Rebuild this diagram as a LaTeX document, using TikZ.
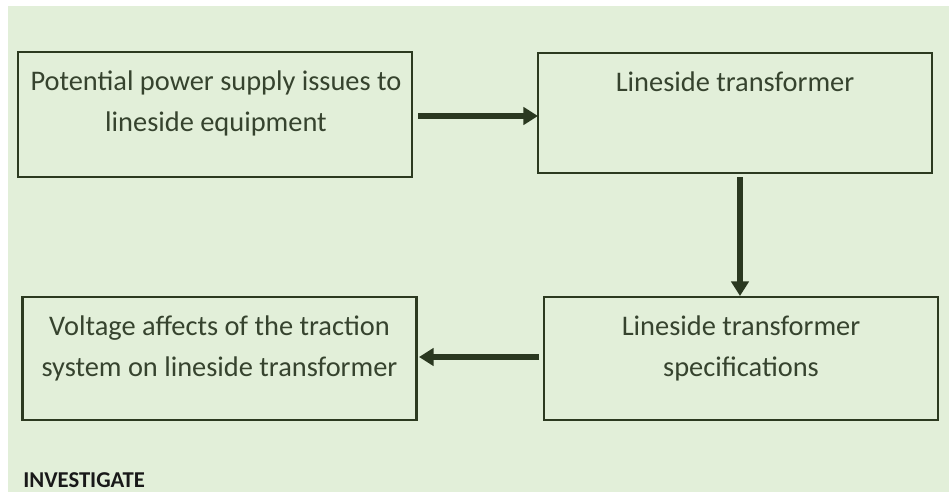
\documentclass[tikz,border=0pt]{standalone}
\usepackage{fontspec}
\setmainfont{Carlito}
\usetikzlibrary{arrows.meta}
\definecolor{bggreen}{HTML}{E2EFD9}
\definecolor{boxline}{HTML}{2C3A20}
\definecolor{txtcol}{HTML}{36432E}
\definecolor{arrcol}{HTML}{2A3820}
\tikzset{
  stepbox/.style={draw=boxline, line width=1.6pt, fill=none, inner sep=0pt, minimum width=394*0.75pt},
  boxtext/.style={text=txtcol, font=\fontsize{21.3}{30.75}\selectfont, align=center, anchor=base, inner sep=0pt},
  flowarrow/.style={draw=arrcol, line width=4.2pt, -{Triangle[length=11pt,width=13pt]}},
}
\begin{document}
\begin{tikzpicture}[x=0.75pt,y=-0.75pt]
\useasboundingbox (0,0) rectangle (949,492);
\fill[white] (0,0) rectangle (949,492);
\fill[bggreen] (8,6) rectangle (949,492);
% boxes
\node[stepbox, minimum height=125*0.75pt] (b1) at (215,114.5) {};
\node[stepbox, minimum height=120*0.75pt] (b2) at (735,113) {};
\node[stepbox, minimum height=123*0.75pt] (b3) at (741,358.5) {};
\node[stepbox, minimum height=123*0.75pt] (b4) at (219.5,358.5) {};
% texts (anchor base = baseline of last line)
\node[boxtext] (t1) at (216,131) {Potential power supply issues to\\lineside equipment};
\node[boxtext] (t2) at (735,91) {Lineside transformer};
\node[boxtext] (t3) at (741,376) {Lineside transformer\\specifications};
\node[boxtext] (t4) at (219.5,376) {Voltage affects of the traction\\system on lineside transformer};
% arrows
\coordinate (a1s) at (418,116);
\coordinate (a1e) at (538,116);
\coordinate (a2s) at (740,177);
\coordinate (a2e) at (740,296);
\coordinate (a3s) at (539,357);
\coordinate (a3e) at (419,357);
\draw[flowarrow] (a1s) -- (a1e);
\draw[flowarrow] (a2s) -- (a2e);
\draw[flowarrow] (a3s) -- (a3e);
% label
\node[anchor=base west, inner sep=0pt, font=\fontsize{17}{20}\selectfont\bfseries, text=black!90] (inv) at (23,487) {INVESTIGATE};
\end{tikzpicture}
\end{document}
